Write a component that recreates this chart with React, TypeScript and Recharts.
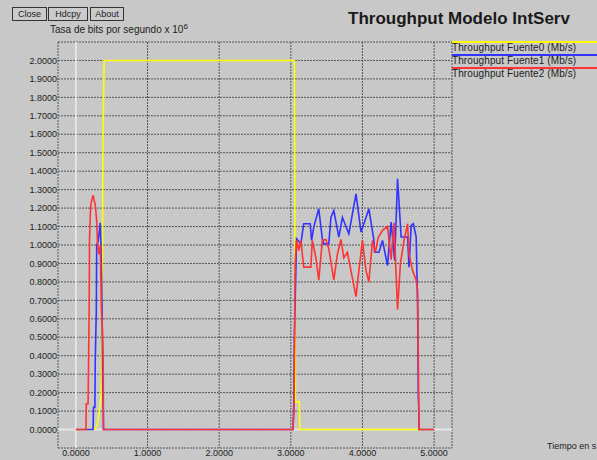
import React from 'react';
import { LineChart, Line, XAxis, YAxis, CartesianGrid, ReferenceLine } from 'recharts';

// Fuente0 (yellow)
const tiempo0 = [0, 0.26, 0.3, 0.335, 0.355, 0.37, 0.378, 0.395, 3.05, 3.065, 3.12, 3.125, 5.0];
const fuente0 = [0, 0, 0.03, 0.12, 0.2, 0.93, 1.6, 2.0, 2.0, 0.15, 0.15, 0, 0];

// Fuente1 (blue)
const tiempo1 = [
  0, 0.24, 0.245, 0.265, 0.27, 0.285, 0.29, 0.31, 0.32, 0.34, 0.35, 0.36, 0.365, 0.375, 0.38, 0.385,
  3.03, 3.04, 3.05, 3.08, 3.14, 3.18, 3.27, 3.29, 3.32, 3.39, 3.44, 3.46, 3.53, 3.56, 3.6, 3.67,
  3.72, 3.81, 3.91, 3.98, 4.02, 4.09, 4.16, 4.17, 4.23, 4.28, 4.35, 4.4, 4.45, 4.49, 4.54, 4.63,
  4.65, 4.68, 4.71, 4.75, 4.77, 4.78, 4.785, 4.79, 5.0,
];
const fuente1 = [
  0, 0, 0.12, 0.12, 0.37, 0.65, 1.0, 1.02, 1.05, 1.12, 1.0, 0.8, 0.66, 0.19, 0.14, 0,
  0, 0.12, 0.5, 1.034, 1.006, 1.115, 1.115, 1.025, 1.097, 1.196, 1.034, 1.006, 1.006, 1.15, 1.187, 1.043,
  1.15, 1.061, 1.277, 1.07, 1.115, 1.196, 1.025, 0.961, 0.961, 1.025, 0.889, 1.124, 0.916, 1.359, 1.043, 1.043,
  0.88, 1.106, 1.115, 1.043, 0.663, 0.17, 0.13, 0, 0,
];

// Fuente2 (red)
const tiempo2 = [
  0, 0.14, 0.145, 0.17, 0.185, 0.19, 0.205, 0.225, 0.24, 0.255, 0.27, 0.29, 0.3, 0.32, 0.34, 0.355,
  0.37, 0.38, 0.385, 3.03, 3.045, 3.06, 3.08, 3.11, 3.14, 3.18, 3.28, 3.3, 3.35, 3.39, 3.44, 3.49,
  3.53, 3.6, 3.65, 3.7, 3.74, 3.79, 3.84, 3.91, 3.95, 4.0, 4.05, 4.09, 4.14, 4.18, 4.22, 4.28,
  4.35, 4.4, 4.44, 4.49, 4.53, 4.58, 4.63, 4.65, 4.7, 4.75, 4.77, 4.79, 5.0,
];
const fuente2 = [
  0, 0, 0.14, 0.14, 0.65, 1.04, 1.21, 1.25, 1.27, 1.24, 1.22, 1.13, 1.02, 0.95, 1.0, 0.66,
  0.55, 0.4, 0, 0, 0.1, 0.9, 1.025, 0.97, 1.025, 0.88, 0.88, 1.025, 0.93, 0.81, 1.025, 1.03,
  0.98, 0.81, 0.95, 1.03, 0.93, 0.96, 0.86, 0.72, 0.86, 1.025, 0.86, 0.8, 1.025, 0.96, 1.04, 1.08,
  1.1, 0.92, 1.12, 0.65, 0.9, 1.025, 1.115, 0.95, 0.86, 0.81, 0.75, 0, 0,
];

const xTicks = [0, 1, 2, 3, 4, 5];
const yTicks = [0, 0.1, 0.2, 0.3, 0.4, 0.5, 0.6, 0.7, 0.8, 0.9, 1.0, 1.1, 1.2, 1.3, 1.4, 1.5, 1.6, 1.7, 1.8, 1.9, 2.0];

const seriesNames = ['Throughput Fuente0 (Mb/s)', 'Throughput Fuente1 (Mb/s)', 'Throughput Fuente2 (Mb/s)'];
const seriesColors = ['#ffff00', '#3333ff', '#ff3333'];

const toPoints = (ts: number[], vs: number[]) => ts.map((t, i) => ({ t, v: vs[i] }));

const FONT = '"Liberation Sans", Arial, sans-serif';

const btn: React.CSSProperties = {
  position: 'absolute',
  top: 7,
  height: 12,
  border: '1px solid #333',
  background: '#cbcbcb',
  fontSize: 9,
  lineHeight: '12px',
  textAlign: 'center',
  color: '#222',
};

export default function App() {
  const lines = [toPoints(tiempo0, fuente0), toPoints(tiempo1, fuente1), toPoints(tiempo2, fuente2)];

  return (
    <div
      style={{
        position: 'relative',
        width: 597,
        height: 460,
        background: '#c8c8c8',
        overflow: 'hidden',
        fontFamily: FONT,
        color: '#222',
      }}
    >
      <style>{'body{margin:0}'}</style>
      <LineChart width={597} height={460} margin={{ top: 42, right: 145, bottom: 0, left: 0 }}>
        <CartesianGrid stroke="#555" strokeDasharray="2 1" strokeWidth={1} />
        <XAxis
          dataKey="t"
          type="number"
          domain={[-0.25, 5.25]}
          ticks={xTicks}
          allowDataOverflow
          height={12}
          tickSize={0}
          tickMargin={2}
          axisLine={false}
          tick={{ fontSize: 9, fill: '#222', fontFamily: FONT }}
          tickFormatter={(v: number) => v.toFixed(4)}
        />
        <YAxis
          type="number"
          domain={[-0.1, 2.1]}
          ticks={yTicks}
          allowDataOverflow
          width={58}
          tickSize={0}
          tickMargin={1}
          axisLine={false}
          interval={0}
          tick={{ fontSize: 9, fill: '#222', fontFamily: FONT }}
          tickFormatter={(v: number) => v.toFixed(4)}
        />
        <ReferenceLine x={0} stroke="#e6e6e6" strokeWidth={2} />
        <ReferenceLine y={0} stroke="#e6e6e6" strokeWidth={2} />
        {lines.map((pts, i) => (
          <Line
            key={seriesNames[i]}
            data={pts}
            dataKey="v"
            name={seriesNames[i]}
            type="linear"
            stroke={seriesColors[i]}
            strokeWidth={1.6}
            dot={false}
            isAnimationActive={false}
          />
        ))}
      </LineChart>

      <div style={{ ...btn, left: 12, width: 33 }}>Close</div>
      <div style={{ ...btn, left: 48, width: 38 }}>Hdcpy</div>
      <div style={{ ...btn, left: 90, width: 32 }}>About</div>

      <div style={{ position: 'absolute', left: 50, top: 22, fontSize: 10 }}>
        Tasa de bits por segundo x 10<sup style={{ fontSize: 8 }}>6</sup>
      </div>

      <div style={{ position: 'absolute', left: 348, top: 9, fontSize: 17, fontWeight: 'bold', color: '#1a1a1a' }}>
        Throughput Modelo IntServ
      </div>

      {seriesNames.map((n, i) => (
        <div key={n} style={{ position: 'absolute', left: 452, top: 41 + i * 12.8, width: 160 }}>
          <div style={{ height: 2, background: seriesColors[i] }} />
          <div style={{ fontSize: 10, lineHeight: '10px', letterSpacing: 0.1 }}>{n}</div>
        </div>
      ))}

      <div style={{ position: 'absolute', left: 547, top: 441, fontSize: 9, whiteSpace: 'nowrap' }}>
        Tiempo en s
      </div>
    </div>
  );
}
